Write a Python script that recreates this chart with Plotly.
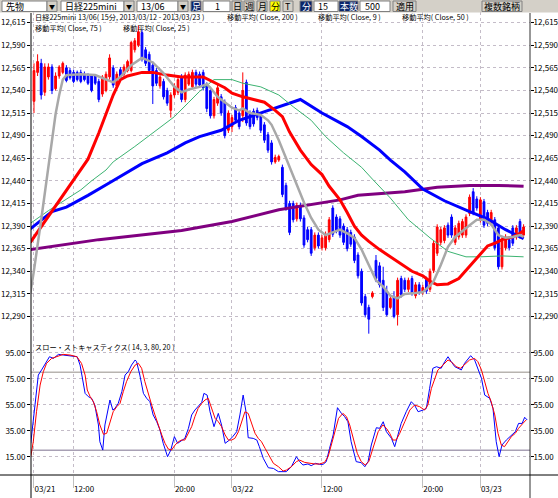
import plotly.graph_objects as go

W, H = 558, 498

# 15 minute bars, 03/21 09:00 .. 03/23 03:00 (x = bar number)
opens = [12528, 12560, 12570, 12538, 12555, 12566, 12542, 12556, 12560, 12565,
         12562, 12560, 12560, 12560, 12558, 12556, 12556, 12556, 12550, 12536,
         12540, 12555, 12565, 12545, 12563, 12558, 12562, 12562, 12585, 12590,
         12604, 12585, 12580, 12568, 12562, 12545, 12550, 12540, 12518, 12535,
         12538, 12555, 12530, 12547, 12544, 12560, 12558, 12560, 12546, 12540,
         12512, 12526, 12533, 12527, 12496, 12500, 12521, 12515, 12512, 12549,
         12515, 12517, 12518, 12513, 12502, 12491, 12482, 12461, 12463, 12455,
         12435, 12415, 12415, 12398, 12413, 12399, 12386, 12386, 12366, 12380,
         12366, 12366, 12375, 12410, 12400, 12398, 12390, 12386, 12383, 12378,
         12358, 12340, 12312, 12300, 12312, 12352, 12346, 12330, 12318, 12300,
         12312, 12292, 12332, 12330, 12320, 12332, 12313, 12325, 12317, 12331,
         12320, 12341, 12360, 12372, 12374, 12391, 12400, 12372, 12378, 12380,
         12380, 12404, 12428, 12420, 12397, 12417, 12405, 12393, 12397, 12388,
         12345, 12366, 12375, 12388, 12378, 12395, 12380]
highs = [12570, 12580, 12575, 12570, 12570, 12569, 12560, 12568, 12572, 12568,
         12565, 12563, 12562, 12563, 12561, 12559, 12558, 12558, 12553, 12557,
         12561, 12580, 12568, 12561, 12566, 12569, 12574, 12595, 12598, 12612,
         12607, 12588, 12583, 12572, 12565, 12558, 12553, 12543, 12538, 12548,
         12555, 12558, 12560, 12561, 12563, 12563, 12561, 12563, 12549, 12544,
         12533, 12546, 12536, 12530, 12518, 12513, 12524, 12518, 12560, 12552,
         12518, 12520, 12521, 12516, 12505, 12494, 12485, 12469, 12469, 12458,
         12438, 12418, 12418, 12416, 12416, 12402, 12389, 12389, 12383, 12383,
         12380, 12384, 12400, 12413, 12403, 12401, 12393, 12389, 12386, 12381,
         12361, 12343, 12315, 12303, 12318, 12358, 12350, 12345, 12324, 12314,
         12318, 12333, 12335, 12333, 12333, 12335, 12328, 12328, 12325, 12334,
         12343, 12374, 12392, 12389, 12391, 12394, 12403, 12391, 12396, 12398,
         12403, 12425, 12432, 12423, 12422, 12420, 12408, 12408, 12400, 12391,
         12378, 12381, 12378, 12391, 12391, 12398, 12392]
lows = [12515, 12556, 12530, 12534, 12552, 12536, 12540, 12553, 12558, 12549,
        12552, 12548, 12550, 12548, 12550, 12546, 12538, 12546, 12527, 12533,
        12538, 12552, 12543, 12543, 12550, 12555, 12560, 12560, 12582, 12588,
        12572, 12567, 12560, 12525, 12545, 12542, 12530, 12523, 12510, 12532,
        12535, 12527, 12527, 12545, 12542, 12544, 12543, 12540, 12516, 12509,
        12509, 12523, 12512, 12487, 12493, 12494, 12504, 12497, 12505, 12501,
        12497, 12500, 12507, 12493, 12482, 12471, 12458, 12459, 12461, 12422,
        12407, 12380, 12394, 12395, 12395, 12366, 12372, 12357, 12363, 12365,
        12363, 12363, 12372, 12378, 12382, 12377, 12369, 12362, 12367, 12349,
        12332, 12302, 12289, 12271, 12310, 12328, 12322, 12296, 12290, 12298,
        12288, 12280, 12311, 12317, 12317, 12313, 12310, 12314, 12314, 12315,
        12317, 12338, 12357, 12369, 12371, 12377, 12377, 12369, 12375, 12377,
        12377, 12401, 12402, 12407, 12394, 12388, 12390, 12390, 12363, 12342,
        12342, 12363, 12363, 12368, 12375, 12376, 12377]
closes = [12562, 12572, 12535, 12566, 12566, 12540, 12556, 12566, 12570, 12551,
          12554, 12550, 12552, 12550, 12552, 12548, 12540, 12548, 12530, 12555,
          12558, 12576, 12546, 12558, 12553, 12566, 12572, 12593, 12595, 12605,
          12575, 12570, 12562, 12545, 12548, 12555, 12533, 12526, 12535, 12545,
          12552, 12530, 12557, 12558, 12560, 12547, 12546, 12543, 12520, 12512,
          12530, 12543, 12515, 12490, 12515, 12510, 12507, 12500, 12540, 12504,
          12500, 12503, 12510, 12496, 12485, 12474, 12461, 12466, 12467, 12425,
          12410, 12383, 12397, 12413, 12398, 12369, 12375, 12360, 12380, 12368,
          12377, 12381, 12397, 12381, 12385, 12380, 12372, 12365, 12370, 12352,
          12335, 12305, 12292, 12287, 12316, 12332, 12325, 12300, 12292, 12310,
          12290, 12330, 12314, 12320, 12330, 12316, 12325, 12317, 12322, 12318,
          12340, 12371, 12389, 12386, 12388, 12380, 12380, 12388, 12393, 12395,
          12400, 12422, 12405, 12410, 12419, 12391, 12393, 12405, 12366, 12345,
          12375, 12378, 12366, 12371, 12388, 12379, 12389]
bars = list(range(len(closes)))

# moving averages as drawn (bar number, price)
ma9_bars = [-1, 0, 2, 4, 6, 7, 8, 9, 13, 17, 20, 22, 24, 27, 30, 33, 36, 39, 41, 43,
            46, 48, 49, 51, 53, 55, 57, 58, 60, 63, 65, 66, 68, 70, 72, 74, 75, 77, 79, 81,
            83, 85, 87, 89, 91, 93, 95, 97, 99, 101, 103, 106, 108, 110, 111, 113, 115, 117, 119, 121,
            123, 125, 127, 129, 131, 133, 135, 136]
ma9_vals = [12316, 12341, 12397, 12454, 12514, 12535, 12552, 12557, 12558, 12557,
            12552, 12549, 12555, 12568, 12576, 12571, 12559, 12544, 12538, 12541,
            12544, 12547, 12543, 12533, 12527, 12521, 12518, 12520, 12515, 12513,
            12507, 12502, 12485, 12465, 12444, 12424, 12416, 12399, 12386, 12380,
            12383, 12386, 12382, 12377, 12364, 12347, 12330, 12323, 12313, 12310,
            12315, 12316, 12317, 12324, 12329, 12347, 12367, 12378, 12385, 12391,
            12397, 12397, 12392, 12380, 12377, 12378, 12380, 12378]
ma25_bars = [-1, 4, 8, 11, 15, 18, 20, 22, 24, 26, 30, 33, 37, 41, 47, 50, 53, 55, 58, 61,
             64, 67, 69, 71, 74, 77, 80, 82, 85, 87, 89, 91, 93, 96, 99, 102, 105, 108, 110, 112,
             115, 118, 120, 122, 124, 126, 128, 130, 133, 135, 136]
ma25_vals = [12372, 12401, 12424, 12441, 12464, 12493, 12514, 12535, 12552, 12556,
             12560, 12560, 12557, 12555, 12555, 12549, 12543, 12537, 12533, 12530,
             12527, 12518, 12511, 12494, 12474, 12458, 12447, 12434, 12419, 12405,
             12390, 12380, 12373, 12364, 12356, 12348, 12340, 12335, 12329, 12325,
             12326, 12332, 12341, 12350, 12359, 12368, 12371, 12375, 12378, 12382, 12385]
ma50_bars = [-1, 4, 13, 16, 20, 22, 28, 33, 39, 43, 46, 50, 55, 58, 63, 68, 72, 77, 81, 86,
             91, 94, 99, 104, 110, 115, 120, 124, 130, 136]
ma50_vals = [12393, 12407, 12430, 12440, 12452, 12461, 12478, 12493, 12511, 12527,
             12539, 12552, 12552, 12548, 12544, 12535, 12522, 12507, 12489, 12471,
             12455, 12442, 12421, 12397, 12377, 12362, 12356, 12356, 12357, 12356]
ma75_bars = [-1, 5, 9, 15, 21, 27, 30, 37, 42, 46, 52, 57, 63, 68, 74, 80, 87, 91, 96, 99,
             103, 108, 114, 121, 126, 131, 136]
ma75_vals = [12387, 12406, 12411, 12424, 12438, 12452, 12459, 12471, 12482, 12489,
             12496, 12507, 12515, 12522, 12530, 12515, 12500, 12489, 12474, 12463,
             12450, 12431, 12418, 12406, 12398, 12386, 12376]
ma200_bars = [-1, 18, 41, 55, 68, 80, 85, 90, 96, 103, 112, 121, 129, 136]
ma200_vals = [12364, 12375, 12385, 12395, 12408, 12416, 12419, 12424, 12426, 12428,
              12433, 12435, 12435, 12434]

# slow stochastics (14, 3, 80, 20)
k_bars = [-0.9, -0.2, 0.6, 1.2, 2.1, 3.1, 4.3, 5.4, 6.8, 8.1, 9.5, 10.9, 12.0, 12.8, 13.5, 14.2,
          15.1, 16.0, 16.9, 17.9, 18.3, 19.1, 19.7, 20.4, 21.1, 21.9, 22.5, 23.4, 24.4, 25.3,
          26.2, 27.1, 28.1, 28.5, 29.4, 30.4, 31.3, 32.2, 33.1, 34.1, 35.0, 35.9, 37.1, 38.0,
          39.0, 39.9, 41.0, 41.9, 42.9, 43.8, 44.7, 45.6, 46.6, 47.2, 48.1, 48.9, 50.0, 51.2,
          52.1, 53.1, 54.3, 55.2, 56.3, 57.2, 58.1, 58.9, 59.5, 60.9, 61.9, 62.6, 63.7, 65.1,
          66.5, 67.9, 69.2, 70.1, 71.5, 72.9, 73.8, 74.7, 76.1, 77.0, 78.2, 79.3, 80.3, 81.2,
          82.1, 83.1, 84.3, 85.4, 86.3, 87.2, 88.1, 89.5, 90.9, 91.9, 92.8, 93.7, 95.1, 96.0,
          97.0, 97.9, 99.3, 100.2, 101.1, 102.0, 103.4, 104.8, 105.7, 106.7, 108.1, 109.0,
          109.9, 110.8, 111.8, 113.1, 114.1, 115.0, 115.9, 116.9, 117.8, 118.7, 119.6, 120.6,
          121.3, 122.4, 123.3, 124.3, 125.2, 126.6, 127.5, 128.4, 129.2, 130.0, 131.2, 132.6,
          133.7, 134.6, 135.6, 136.3, 137.0]
k_vals = [25.3, 44.5, 62.4, 77.8, 81.7, 86.8, 91.9, 90.6, 93.7, 93.2, 92.7, 92.7, 91.9, 85.5,
          72.7, 63.7, 61.2, 59.9, 54.7, 39.4, 26.5, 20.1, 39.4, 49.6, 58.6, 50.9, 52.2, 56.0,
          65.0, 77.8, 80.4, 85.5, 89.4, 88.1, 77.8, 63.7, 59.9, 57.3, 47.1, 41.9, 35.5, 25.3,
          15.0, 20.1, 30.4, 25.3, 27.8, 29.1, 36.8, 47.1, 50.9, 53.5, 56.8, 63.7, 62.4, 49.6,
          38.1, 48.3, 39.4, 25.3, 27.8, 30.4, 34.2, 47.1, 62.4, 49.6, 29.6, 29.1, 27.8, 22.7,
          13.7, 6.5, 6.0, 3.5, 3.5, 3.5, 7.3, 15.0, 11.2, 8.6, 9.4, 8.1, 9.9, 9.1, 9.1, 11.2,
          21.4, 31.7, 52.7, 48.3, 45.8, 41.9, 26.5, 11.2, 10.4, 7.3, 11.2, 24.0, 37.3, 36.8,
          41.9, 34.2, 29.1, 22.7, 31.7, 40.6, 49.6, 57.3, 54.7, 49.6, 50.9, 52.2, 67.6, 83.0,
          84.2, 83.0, 88.1, 91.9, 88.1, 84.2, 83.0, 81.7, 86.8, 90.6, 92.7, 89.4, 83.0, 75.3,
          62.4, 59.9, 52.2, 26.5, 15.0, 24.0, 27.8, 31.7, 34.2, 40.6, 40.6, 45.3, 43.2]
d_bars = [-0.9, -0.2, 0.7, 1.7, 2.6, 3.5, 4.9, 6.3, 8.1, 10.0, 11.9, 13.2, 14.2, 14.8, 15.6,
          16.5, 17.4, 18.3, 19.3, 20.2, 21.1, 22.0, 23.0, 23.9, 24.8, 25.7, 26.9, 28.1, 29.0,
          29.9, 30.8, 31.8, 32.7, 33.6, 34.5, 35.5, 36.4, 37.3, 38.2, 39.2, 40.1, 41.0, 41.9,
          42.9, 43.8, 44.7, 45.6, 46.6, 47.5, 48.4, 49.4, 50.3, 51.2, 52.1, 53.1, 54.0, 54.9,
          55.8, 56.8, 57.7, 58.6, 59.5, 60.5, 61.4, 62.3, 63.2, 64.2, 65.6, 66.5, 67.9, 69.2,
          70.1, 71.5, 72.9, 73.8, 75.2, 76.6, 78.0, 79.3, 80.7, 81.7, 82.6, 83.5, 84.6, 85.8,
          86.8, 87.7, 88.6, 89.8, 90.9, 92.0, 93.0, 93.9, 94.6, 95.6, 96.9, 97.9, 98.8, 99.7,
          100.6, 101.6, 103.0, 104.4, 105.7, 107.1, 108.5, 109.4, 110.4, 111.3, 112.2, 113.6,
          115.0, 115.9, 117.3, 118.5, 119.6, 121.0, 122.4, 123.3, 124.3, 125.2, 126.1, 127.0,
          128.0, 128.9, 129.8, 130.7, 131.7, 132.6, 133.7, 134.6, 135.8, 136.7]
d_vals = [15.0, 26.5, 49.6, 70.1, 80.4, 86.8, 90.6, 91.9, 93.7, 93.2, 91.9, 86.8, 77.8, 66.3,
          61.2, 57.3, 49.6, 39.4, 32.2, 33.0, 41.9, 49.6, 53.5, 56.0, 65.0, 72.7, 80.4, 85.5,
          86.8, 83.0, 72.7, 62.4, 54.7, 47.1, 39.4, 31.7, 25.3, 20.9, 20.1, 24.0, 26.5, 27.8,
          27.8, 33.0, 38.1, 45.8, 52.2, 56.0, 58.6, 59.9, 50.9, 44.5, 41.9, 38.1, 31.7, 27.8,
          27.8, 29.1, 34.2, 41.9, 49.6, 48.3, 40.6, 33.0, 29.1, 26.5, 21.4, 13.7, 9.9, 7.3,
          4.0, 4.7, 7.3, 11.2, 12.4, 10.6, 9.9, 9.4, 9.4, 10.6, 15.0, 24.0, 34.2, 44.5, 48.3,
          45.8, 39.4, 29.1, 17.6, 11.2, 8.6, 11.2, 18.8, 26.5, 34.2, 39.4, 36.8, 33.0, 27.8,
          27.8, 33.0, 41.9, 50.9, 54.7, 53.5, 50.9, 54.7, 67.6, 75.3, 81.7, 85.5, 89.4, 88.1,
          84.2, 83.0, 85.5, 89.4, 90.6, 88.1, 81.7, 72.7, 63.7, 57.3, 47.1, 33.0, 24.0, 22.7,
          26.5, 30.4, 33.0, 36.8, 40.6, 43.2]
stoch_levels = [80, 20]

price_ticks = [12290, 12315, 12340, 12365, 12390, 12415, 12440, 12465, 12490, 12515,
               12540, 12565, 12590, 12615]
stoch_ticks = [15, 35, 55, 75, 95]
time_tick_bars = [0, 11, 39, 55, 80, 108, 124]
time_tick_text = ["03/21", "12:00", "20:00", "03/22", "12:00", "20:00", "03/23"]

FONT = "Noto Sans CJK JP"
GRID = "#c4bcc8"
SPLIT = 338  # pixel row where the price pane ends and the stochastics pane starts


def px(x):
    return x / W


def py(y):
    return 1 - y / H


fig = go.Figure()

fig.add_trace(go.Candlestick(
    x=bars, open=opens, high=highs, low=lows, close=closes,
    increasing=dict(line=dict(color="#ff0000", width=1), fillcolor="#ff0000"),
    decreasing=dict(line=dict(color="#0000ff", width=1), fillcolor="#0000ff"),
    whiskerwidth=0, hoverinfo="skip", xaxis="x", yaxis="y"))

# moving averages, drawn over the candles
for xs, ys, color, width in [
    (ma200_bars, ma200_vals, "#800080", 3),
    (ma75_bars, ma75_vals, "#0000ff", 3),
    (ma50_bars, ma50_vals, "#3cb371", 1),
    (ma25_bars, ma25_vals, "#ff0000", 3),
    (ma9_bars, ma9_vals, "#a8a8a8", 2.5),
]:
    fig.add_trace(go.Scatter(x=xs, y=ys, mode="lines", line=dict(color=color, width=width),
                             hoverinfo="skip", xaxis="x", yaxis="y"))

fig.add_trace(go.Scatter(x=k_bars, y=k_vals, mode="lines", line=dict(color="#0000ff", width=1),
                         hoverinfo="skip", xaxis="x2", yaxis="y2"))
fig.add_trace(go.Scatter(x=d_bars, y=d_vals, mode="lines", line=dict(color="#ff0000", width=1),
                         hoverinfo="skip", xaxis="x2", yaxis="y2"))
# keep the right-hand axes alive
fig.add_trace(go.Scatter(x=[None], y=[None], xaxis="x", yaxis="y3", showlegend=False))
fig.add_trace(go.Scatter(x=[None], y=[None], xaxis="x2", yaxis="y4", showlegend=False))

x_range = [-0.83, 137.78]
price_range = [12266.2, 12626.8]
stoch_range = [0.92, 106.3]
tickfont = dict(family=FONT, size=8, color="black")

common_x = dict(domain=[px(31), px(530)], range=x_range, tickvals=time_tick_bars,
                showgrid=True, gridcolor=GRID, griddash="dot", gridwidth=1,
                zeroline=False, showline=False)
common_y = dict(showgrid=True, gridcolor=GRID, griddash="dot", gridwidth=1, zeroline=False,
                ticks="outside", ticklen=3, tickcolor="black", tickfont=tickfont, showline=False)
right_y = dict(side="right", ticks="outside", ticklen=3, tickcolor="black", tickfont=tickfont,
               showgrid=False, zeroline=False, ticklabelstandoff=-2)

fig.update_layout(
    width=W, height=H,
    margin=dict(l=0, r=0, t=0, b=0),
    paper_bgcolor="white", plot_bgcolor="white",
    showlegend=False,
    font=dict(family=FONT, size=8, color="black"),
    xaxis=dict(**common_x, anchor="y", showticklabels=False, ticks="",
               rangeslider=dict(visible=False)),
    xaxis2=dict(**common_x, anchor="y2", matches="x", ticktext=time_tick_text,
                ticks="outside", ticklen=12, tickcolor="#c0c0c0",
                ticklabelposition="outside right", ticklabelstandoff=6, tickfont=tickfont),
    yaxis=dict(**common_y, domain=[py(SPLIT), py(12)], range=price_range,
               tickvals=price_ticks, tickformat=",d", anchor="x"),
    yaxis3=dict(**right_y, overlaying="y", anchor="x", range=price_range,
                tickvals=price_ticks, tickformat=",d"),
    yaxis2=dict(**common_y, domain=[py(475), py(SPLIT)], range=stoch_range,
                tickvals=stoch_ticks, tickformat=".2f", anchor="x2"),
    yaxis4=dict(**right_y, overlaying="y2", anchor="x2", range=stoch_range,
                tickvals=stoch_ticks, tickformat=".2f"),
)

shapes = []
annotations = []

# stochastics 80 / 20 levels
for lvl, col in zip(stoch_levels, ["#b8b4b0", "#a8a0b4"]):
    shapes.append(dict(type="line", xref="paper", yref="y2", x0=px(31), x1=px(530),
                       y0=lvl, y1=lvl, line=dict(color=col, width=1.5), layer="below"))

# frame lines
shapes.append(dict(type="line", xref="paper", yref="paper", x0=px(31), x1=px(31),
                   y0=py(13), y1=0, line=dict(color="black", width=1)))
shapes.append(dict(type="line", xref="paper", yref="paper", x0=px(530), x1=px(530),
                   y0=py(13), y1=0, line=dict(color="#303030", width=1)))
shapes.append(dict(type="line", xref="paper", yref="paper", x0=0, x1=1,
                   y0=py(475), y1=py(475), line=dict(color="black", width=1)))

# toolbar
shapes.append(dict(type="rect", xref="paper", yref="paper", x0=0, x1=1, y0=py(12.5), y1=1,
                   fillcolor="#d4d0c8", line=dict(width=0)))
toolbar = [
    ("input", 2, 47, "先物", "left"),
    ("drop", 47, 57, "▼", "center"),
    ("input", 61, 124, "日経225mini", "left"),
    ("drop", 124, 134, "▼", "center"),
    ("input", 137, 178, "13/06", "left"),
    ("drop", 178, 188, "▼", "center"),
    ("dark", 191, 201, "足", "center"),
    ("input", 203, 230, "1", "right"),
    ("button", 232, 242, "日", "center"),
    ("button", 244, 254, "週", "center"),
    ("button", 257, 267, "月", "center"),
    ("yellow", 270, 280, "分", "center"),
    ("button", 283, 293, "T", "center"),
    ("dark", 300, 312, "分", "center"),
    ("input", 314, 338, "15", "right"),
    ("dark", 339, 358, "本数", "center"),
    ("input", 360, 390, "500", "right"),
    ("button", 393, 416, "適用", "center"),
    ("button", 482, 522, "複数銘柄", "center"),
]
fills = {"input": "white", "drop": "#d4d0c8", "button": "#d4d0c8",
         "dark": "#0a246a", "yellow": "#ffff00"}
for kind, x0, x1, text, align in toolbar:
    shapes.append(dict(type="rect", xref="paper", yref="paper", x0=px(x0), x1=px(x1),
                       y0=py(11.5), y1=py(1), fillcolor=fills[kind],
                       line=dict(color="#808080", width=1)))
    if align == "left":
        ax, anchor = px(x0 + 2), "left"
    elif align == "right":
        ax, anchor = px(x1 - 8), "right"
    else:
        ax, anchor = px((x0 + x1) / 2), "center"
    annotations.append(dict(x=ax, y=py(6.3), xref="paper", yref="paper", text=text,
                            showarrow=False, xanchor=anchor, yanchor="middle",
                            font=dict(family=FONT, size=6 if kind == "drop" else 9,
                                      color="white" if kind == "dark" else "black")))

# chart captions
captions = [
    (33, 17.5, "日経225mini 13/06( 15分, 2013/03/12 - 2013/03/23 )"),
    (225, 17.5, "移動平均( Close, 200 )"),
    (316, 17.5, "移動平均( Close, 9 )"),
    (400, 17.5, "移動平均( Close, 50 )"),
    (33, 28, "移動平均( Close, 75 )"),
    (121, 28, "移動平均( Close, 25 )"),
    (33, 347, "スロー・ストキャスティクス( 14, 3, 80, 20 )"),
]
for x, y, text in captions:
    annotations.append(dict(x=px(x), y=py(y), xref="paper", yref="paper", text=text,
                            showarrow=False, xanchor="left", yanchor="middle",
                            font=dict(family=FONT, size=7.2, color="black")))

fig.update_layout(shapes=shapes, annotations=annotations)

# the page body has a default 8px margin; drop it so the figure fills the window
fig.write_html("out.html", config={"displayModeBar": False},
               post_script="document.body.style.margin='0';")
